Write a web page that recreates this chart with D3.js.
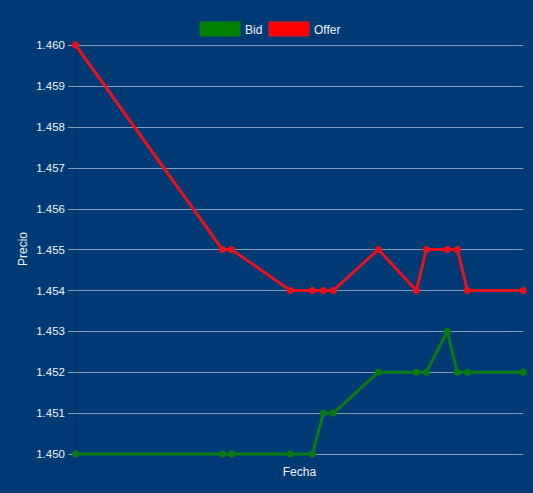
<!DOCTYPE html>
<html>
<head>
<meta charset="utf-8">
<script src="https://cdn.jsdelivr.net/npm/d3@7"></script>
<style>
  html, body { margin: 0; padding: 0; background: #003a74; }
  svg { display: block; }
  text { font-family: "Liberation Sans", Arial, sans-serif; }
</style>
</head>
<body>
<svg id="chart" width="533" height="493"></svg>
<script>
// ---- data ----
const fechas = ["09:00","11:27","11:36","12:35","12:57","13:08","13:18","14:03","14:41","14:51","15:12","15:22","15:32","16:28"];
const bid    = [1.450,1.450,1.450,1.450,1.450,1.451,1.451,1.452,1.452,1.452,1.453,1.452,1.452,1.452];
const offer  = [1.460,1.455,1.455,1.454,1.454,1.454,1.454,1.455,1.454,1.455,1.455,1.455,1.454,1.454];
const yTicks = [1.450,1.451,1.452,1.453,1.454,1.455,1.456,1.457,1.458,1.459,1.460];
const seriesNames = ["Bid","Offer"];
const seriesColors = ["#008000","#ff0000"];
const lineColors = ["#0b7a14","#e8121e"];

const parse = d3.timeParse("%H:%M");
const times = fechas.map(parse);
const series = [bid, offer].map((vals, i) => ({
  name: seriesNames[i], color: seriesColors[i], line: lineColors[i],
  values: vals.map((v, j) => ({ t: times[j], v }))
}));

const svg = d3.select("#chart");
const pLeft = 75.5, pRight = 523.3, pTop = 45, pBottom = 454;

const x = d3.scaleTime().domain(d3.extent(times)).range([pLeft, pRight]);
const y = d3.scaleLinear().domain([1.450, 1.460]).range([pBottom, pTop]);

// grid lines
svg.append("g").selectAll("line").data(yTicks).join("line")
  .attr("x1", 68).attr("x2", pRight)
  .attr("y1", d => Math.round(y(d)) + 0.5).attr("y2", d => Math.round(y(d)) + 0.5)
  .attr("stroke", "rgba(255,255,255,0.5)").attr("stroke-width", 1);

// y axis labels
const yAxis = d3.axisLeft(y).tickValues(yTicks).tickFormat(d3.format(".3f")).tickSize(0).tickPadding(0);
const ya = svg.append("g").attr("transform", `translate(65,0)`).call(yAxis);
ya.select(".domain").remove();
ya.selectAll("text").attr("fill", "#eef2f7").attr("font-size", 11.5)
  .attr("font-family", "'Liberation Sans', Arial, sans-serif");

// vertical axis line
svg.append("line").attr("x1", 76.5).attr("x2", 76.5).attr("y1", pTop).attr("y2", pBottom)
  .attr("stroke", "rgba(0,0,0,0.15)");

// axis titles
svg.append("text").attr("transform", "translate(27,249) rotate(-90)")
  .attr("text-anchor", "middle").attr("fill", "#eef2f7").attr("font-size", 12).text("Precio");
svg.append("text").attr("x", (pLeft + pRight) / 2).attr("y", 476)
  .attr("text-anchor", "middle").attr("fill", "#eef2f7").attr("font-size", 12).text("Fecha");

// lines
const line = d3.line().x(d => x(d.t)).y(d => y(d.v));
series.forEach(s => {
  svg.append("path").datum(s.values).attr("d", line)
    .attr("fill", "none").attr("stroke", s.line).attr("stroke-width", 3)
    .attr("stroke-linejoin", "round");
  svg.append("g").selectAll("circle").data(s.values).join("circle")
    .attr("cx", d => x(d.t)).attr("cy", d => y(d.v)).attr("r", 3.5)
    .attr("fill", s.line);
});

// legend
const legendX = [200, 269];
series.forEach((s, i) => {
  const g = svg.append("g").attr("transform", `translate(${legendX[i]},22)`);
  g.append("rect").attr("width", 40).attr("height", 14).attr("fill", s.color)
    .attr("stroke", s.line).attr("stroke-width", 1);
  g.append("text").attr("x", 45).attr("y", 11.5).attr("fill", "#eef2f7")
    .attr("font-size", 12).text(s.name);
});
</script>
</body>
</html>
